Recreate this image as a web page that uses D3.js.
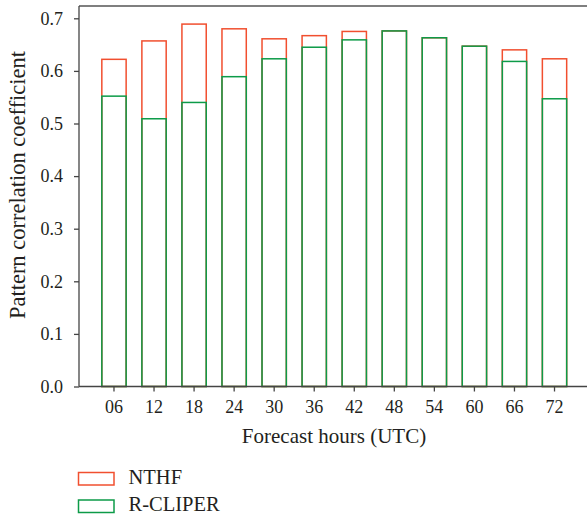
<!DOCTYPE html>
<head>
    <meta charset="utf-8">
    <script src="https://d3js.org/d3.v7.js"></script>
    <style>
        body { margin: 0; background: #fff; }
        text { font-family: "Liberation Serif", serif; fill: #231f20; }
    </style>
</head>
<body>
    <svg id="chart" width="587" height="517"></svg>
    <script>
        // data
        const hours = ["06", "12", "18", "24", "30", "36", "42", "48", "54", "60", "66", "72"];
        const nthf = [0.622, 0.657, 0.689, 0.680, 0.661, 0.667, 0.675, 0.676, 0.663, 0.647, 0.640, 0.623];
        const rcliper = [0.552, 0.509, 0.540, 0.589, 0.623, 0.645, 0.659, 0.676, 0.663, 0.647, 0.618, 0.547];
        const yTicks = [0.0, 0.1, 0.2, 0.3, 0.4, 0.5, 0.6, 0.7];
        const seriesNames = ["NTHF", "R-CLIPER"];
        const colors = ["#f14f2f", "#0d9b48"];

        const svg = d3.select("svg");
        const plotL = 79, plotR = 589.5, plotT = 6, plotB = 386.5;

        const x = d3.scaleBand()
            .domain(hours)
            .range([plotL, plotR])
            .paddingInner(0.393)
            .paddingOuter(0.57);

        const y = d3.scaleLinear()
            .domain([0, 0.7])
            .range([plotB, plotB - 0.7 * 526]);

        // top frame line
        svg.append("line")
            .attr("x1", plotL).attr("x2", 587)
            .attr("y1", plotT).attr("y2", plotT)
            .attr("stroke", "#555").attr("stroke-width", 1.5);

        // bars: NTHF behind, R-CLIPER in front
        [nthf, rcliper].forEach((vals, k) => {
            svg.append("g")
                .selectAll("rect")
                .data(vals)
                .join("rect")
                    .attr("x", (d, i) => x(hours[i]))
                    .attr("width", x.bandwidth())
                    .attr("y", d => y(d))
                    .attr("height", d => y(0) - y(d))
                    .attr("fill", "none")
                    .attr("stroke", colors[k])
                    .attr("stroke-width", 1.5);
        });

        // axes
        const yAxis = svg.append("g")
            .attr("transform", `translate(${plotL},0)`)
            .call(d3.axisLeft(y).tickValues(yTicks).tickFormat(d3.format(".1f")).tickSize(5).tickPadding(11));
        yAxis.select(".domain").attr("d", `M0,${plotT}V${plotB}`);

        const xAxis = svg.append("g")
            .attr("transform", `translate(0,${plotB})`)
            .call(d3.axisBottom(x).tickSize(5).tickPadding(9));
        xAxis.select(".domain").attr("d", `M${plotL},0H587`);

        svg.selectAll(".tick text")
            .attr("font-size", 18)
            .style("font-family", "'Liberation Serif', serif")
            .attr("fill", "#231f20");
        svg.selectAll(".domain, .tick line").attr("stroke", "#444").attr("stroke-width", 1.3);

        // axis titles
        svg.append("text")
            .attr("x", 334).attr("y", 442.5)
            .attr("text-anchor", "middle")
            .attr("font-size", 21)
            .text("Forecast hours (UTC)");

        svg.append("text")
            .attr("transform", `translate(25,185) rotate(-90)`)
            .attr("text-anchor", "middle")
            .attr("font-size", 22.5)
            .text("Pattern correlation coefficient");

        // legend
        const legend = svg.append("g")
            .selectAll("g")
            .data(seriesNames)
            .join("g")
                .attr("transform", (d, i) => `translate(78.5,${472.5 + i * 27.5})`);
        legend.append("rect")
            .attr("width", 35.5).attr("height", 12.5)
            .attr("fill", "none")
            .attr("stroke", (d, i) => colors[i])
            .attr("stroke-width", 1.5);
        legend.append("text")
            .attr("x", 50).attr("y", 11)
            .attr("font-size", 20.5)
            .text(d => d);
    </script>
</body>
